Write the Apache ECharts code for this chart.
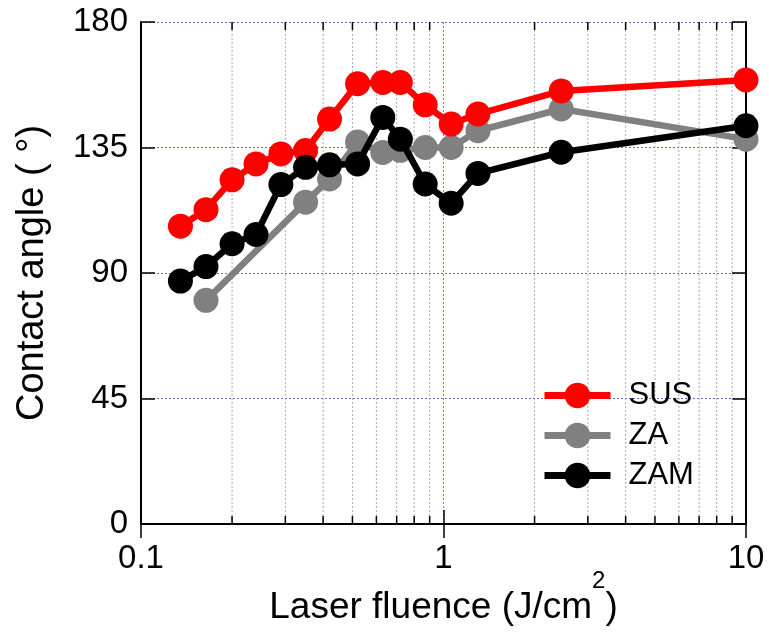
<!DOCTYPE html>
<html>
<head>
<meta charset="utf-8">
<script src="https://cdn.jsdelivr.net/npm/echarts@6/dist/echarts.min.js"></script>
<style>
  html, body { margin: 0; padding: 0; background: #fff; }
  #chart { width: 769px; height: 632px; }
</style>
</head>
<body>
<div id="chart"></div>
<script>
// 接触角 vs レーザーフルエンス
var seriesNames = ['SUS', 'ZA', 'ZAM'];

var susX = [0.135, 0.164, 0.2, 0.24, 0.29, 0.35, 0.42, 0.52, 0.63, 0.72, 0.87, 1.06, 1.3, 2.45, 10];
var susY = [106.8, 112.7, 123.4, 129.1, 132.7, 133.9, 145.2, 157.9, 158.3, 158.3, 150.3, 143.4, 147.0, 155.3, 159.2];

var zaX = [0.164, 0.35, 0.42, 0.52, 0.63, 0.72, 0.87, 1.06, 1.3, 2.45, 10];
var zaY = [80.2, 115.4, 123.7, 137.0, 133.2, 134.0, 135.0, 135.0, 141.0, 148.8, 138.0];

var zamX = [0.135, 0.164, 0.2, 0.24, 0.29, 0.35, 0.42, 0.52, 0.63, 0.72, 0.87, 1.06, 1.3, 2.45, 10];
var zamY = [87.1, 92.3, 100.5, 103.8, 121.7, 127.9, 128.8, 129.1, 145.8, 138.0, 121.9, 115.0, 125.7, 133.3, 142.8];

// log軸の補助目盛 (2..9)
var minorTicks = [0.2, 0.3, 0.4, 0.5, 0.6, 0.7, 0.8, 0.9, 2, 3, 4, 5, 6, 7, 8, 9];

var X_MIN = 0.1, X_MAX = 10, Y_MIN = 0, Y_MAX = 180, Y_STEP = 45;

function pairs(xs, ys) {
    var out = [];
    for (var i = 0; i < xs.length; i++) {
        out.push([xs[i], ys[i]]);
    }
    return out;
}

var font = "'Liberation Sans', Arial, sans-serif";

function lineSeries(name, color, xs, ys, z) {
    return {
        name: name,
        type: 'line',
        data: pairs(xs, ys),
        symbol: 'circle',
        symbolSize: 25,
        showSymbol: true,
        z: z,
        lineStyle: { color: color, width: 6.5 },
        itemStyle: { color: color },
        emphasis: { disabled: true }
    };
}

function sideAxis(type, pos, extra) {
    var ax = {
        type: type,
        position: pos,
        axisLine: { show: true, lineStyle: { color: '#000', width: 2 } },
        axisTick: { show: true, inside: true, length: 14, lineStyle: { color: '#000', width: 1.5 } },
        axisLabel: { show: false },
        splitLine: { show: false }
    };
    for (var k in extra) { ax[k] = extra[k]; }
    return ax;
}

var chart = echarts.init(document.getElementById('chart'));
chart.setOption({
    animation: false,
    backgroundColor: '#fff',
    grid: { left: 141, right: 23, top: 22, bottom: 108, containLabel: false, outerBoundsMode: 'none' },
    legend: {
        data: seriesNames,
        orient: 'vertical',
        left: 541,
        top: 380,
        padding: 0,
        itemWidth: 66,
        itemHeight: 32,
        itemGap: 9,
        selectedMode: false,
        lineStyle: { width: 7 },
        textStyle: {
            fontFamily: font,
            fontSize: 31,
            color: '#000',
            padding: [0, 0, 0, 13]
        }
    },
    xAxis: [
        sideAxis('log', 'bottom', {
            logBase: 10, min: X_MIN, max: X_MAX,
            name: '{a|Laser fluence (J/cm}{s|2}{a|)}',
            nameLocation: 'middle',
            nameGap: 45,
            nameMoveOverlap: false,
            nameTextStyle: {
                color: '#000',
                rich: {
                    a: { fontFamily: font, fontSize: 37, color: '#000', padding: [20, 0, 0, 0] },
                    s: { fontFamily: font, fontSize: 24, color: '#000', verticalAlign: 'top' }
                }
            },
            axisLabel: { show: true, fontFamily: font, fontSize: 33, color: '#000', margin: 18 },
            splitLine: { show: true, lineStyle: { color: '#7c7cb8', type: [2, 2], width: 1 } }
        }),
        sideAxis('log', 'top', { logBase: 10, min: X_MIN, max: X_MAX })
    ],
    yAxis: [
        sideAxis('value', 'left', {
            min: Y_MIN, max: Y_MAX, interval: Y_STEP,
            name: 'Contact angle ( °)',
            nameLocation: 'middle',
            nameGap: 89,
            nameMoveOverlap: false,
            nameTextStyle: { fontFamily: font, fontSize: 38, color: '#000' },
            axisLabel: { show: true, fontFamily: font, fontSize: 33, color: '#000', margin: 13 },
            splitLine: { show: true, lineStyle: { color: '#6a6ab4', type: [2, 2], width: 1 } }
        }),
        sideAxis('value', 'right', { min: Y_MIN, max: Y_MAX, interval: Y_STEP })
    ],
    series: [
        {
            // 補助目盛と補助グリッド
            type: 'custom',
            silent: true,
            z: 1,
            xAxisIndex: 0,
            yAxisIndex: 0,
            data: minorTicks.map(function (v) { return [v, Y_MIN]; }),
            renderItem: function (params, api) {
                var b = api.coord([api.value(0), Y_MIN]);
                var t = api.coord([api.value(0), Y_MAX]);
                return {
                    type: 'group',
                    children: [{
                        type: 'line',
                        shape: { x1: b[0], y1: b[1], x2: t[0], y2: t[1] },
                        style: { stroke: '#a8a8c8', lineWidth: 1, lineDash: [2, 2] }
                    }, {
                        type: 'line',
                        shape: { x1: b[0], y1: b[1], x2: b[0], y2: b[1] - 8 },
                        style: { stroke: '#000', lineWidth: 1.5 }
                    }, {
                        type: 'line',
                        shape: { x1: t[0], y1: t[1], x2: t[0], y2: t[1] + 8 },
                        style: { stroke: '#000', lineWidth: 1.5 }
                    }]
                };
            }
        },
        lineSeries('ZA', '#808080', zaX, zaY, 2),
        lineSeries('SUS', '#ff0000', susX, susY, 3),
        lineSeries('ZAM', '#000000', zamX, zamY, 4)
    ]
});
</script>
</body>
</html>
